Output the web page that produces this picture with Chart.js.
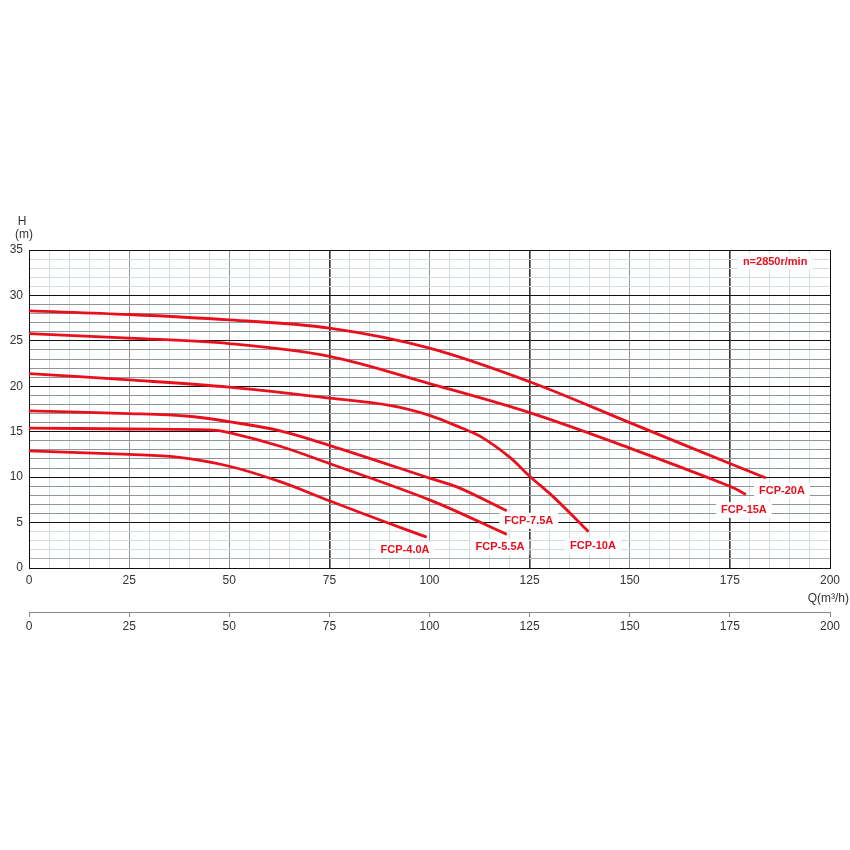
<!DOCTYPE html>
<html>
<head>
<meta charset="utf-8">
<script src="https://cdn.jsdelivr.net/npm/chart.js@4.4.1/dist/chart.umd.min.js"></script>
<style>
  html, body { margin: 0; padding: 0; background: #fff; }
  #wrap { width: 850px; height: 850px; }
</style>
</head>
<body>
<div id="wrap"><canvas id="chart" width="850" height="850"></canvas></div>
<script>
// pump curves, Q in m3/h, H in m
const q20 = [0, 25, 50, 75, 100, 125, 150, 175, 184];
const h20 = [28.3, 27.9, 27.3, 26.4, 24.2, 20.5, 16.0, 11.5, 9.9];
const q15 = [0, 25, 50, 75, 100, 125, 150, 175, 179];
const h15 = [25.8, 25.3, 24.7, 23.3, 20.3, 17.1, 13.2, 9.0, 8.1];
const q10 = [0, 25, 50, 75, 90, 100, 108, 113, 120, 125, 131, 139.7];
const h10 = [21.4, 20.7, 19.9, 18.7, 17.9, 16.8, 15.4, 14.4, 12.2, 10.1, 7.8, 4.0];
const q75 = [0, 25, 40, 50, 62.7, 75, 100, 107, 119.3];
const h75 = [17.3, 17.0, 16.7, 16.1, 15.1, 13.5, 9.9, 8.9, 6.3];
const q55 = [0, 25, 45, 50, 62.7, 75, 100, 119.3];
const h55 = [15.4, 15.3, 15.2, 14.9, 13.4, 11.5, 7.5, 3.7];
const q40 = [0, 25, 37, 50, 62.7, 75, 90, 99.3];
const h40 = [12.9, 12.5, 12.2, 11.2, 9.5, 7.4, 4.9, 3.4];

const seriesNames = ['FCP-20A', 'FCP-15A', 'FCP-10A', 'FCP-7.5A', 'FCP-5.5A', 'FCP-4.0A'];
const labelQ = [188, 178.5, 140.8, 124.8, 117.6, 93.9];
const labelH = [8.5, 6.4, 2.4, 5.2, 2.3, 2.0];

const speedText = 'n=2850r/min';
const RED = '#e8101c';
const FONT = '"Liberation Sans", Arial, sans-serif';

function pts(qs, hs) {
  return qs.map((q, i) => ({x: q, y: hs[i]}));
}

const curves = [[q20, h20], [q15, h15], [q10, h10], [q75, h75], [q55, h55], [q40, h40]];

const textPlugin = {
  id: 'texts',
  afterDatasetsDraw(chart) {
    const ctx = chart.ctx;
    const x = chart.scales.x, y = chart.scales.y;
    ctx.save();
    ctx.font = 'bold 11px ' + FONT;
    ctx.textAlign = 'center';
    ctx.textBaseline = 'middle';
    const box = (txt, px, py) => {
      const w = ctx.measureText(txt).width;
      ctx.fillStyle = '#fff';
      ctx.fillRect(px - w / 2 - 5, py - 8, w + 10, 16);
      ctx.fillStyle = RED;
      ctx.fillText(txt, px, py);
    };
    seriesNames.forEach((n, i) => box(n, x.getPixelForValue(labelQ[i]), y.getPixelForValue(labelH[i])));
    box(speedText, x.getPixelForValue(186.3), y.getPixelForValue(33.7));

    ctx.fillStyle = '#333';
    ctx.font = '12px ' + FONT;
    ctx.fillText('H', 22, 222);
    ctx.fillText('(m)', 24, 235);
    ctx.textAlign = 'right';
    ctx.fillText('Q(m³/h)', 849, 599);
    ctx.restore();
  }
};

function xGridColor(c) {
  const v = c.tick ? c.tick.value : 0;
  if (v === 0 || v === 200) return '#111';
  if (v === 75 || v === 125 || v === 175) return '#333';
  if (v % 25 === 0) return '#8c9496';
  return '#cfdde2';
}
function xGridWidth(c) {
  const v = c.tick ? c.tick.value : 0;
  if (v === 75 || v === 125 || v === 175) return 1.6;
  return 1;
}
function yGridColor(c) {
  const v = c.tick ? c.tick.value : 0;
  if (v % 5 === 0) return '#111';
  if (v > 5 && v < 30) return '#8e9698';
  if (v === 1) return '#a8b2b4';
  return '#d2dee2';
}

new Chart(document.getElementById('chart'), {
  type: 'line',
  data: {
    datasets: curves.map((c, i) => ({
      label: seriesNames[i],
      data: pts(c[0], c[1]),
      borderColor: RED,
      borderWidth: 2.8,
      pointRadius: 0,
      tension: 0.35,
      fill: false
    }))
  },
  options: {
    responsive: false,
    animation: false,
    layout: {padding: {left: 0, top: 250, right: 20, bottom: 218}},
    plugins: {legend: {display: false}, tooltip: {enabled: false}},
    scales: {
      x: {
        type: 'linear', position: 'bottom', min: 0, max: 200, weight: 0,
        afterFit: s => { s.height = 44; },
        ticks: {
          stepSize: 5, autoSkip: false, maxRotation: 0, padding: 5,
          color: '#333', font: {family: FONT, size: 12},
          callback: v => (v % 25 === 0 ? String(v) : '')
        },
        grid: {color: xGridColor, lineWidth: xGridWidth, drawTicks: false},
        border: {color: '#111', width: 1}
      },
      x2: {
        type: 'linear', position: 'bottom', min: 0, max: 200, weight: 1,
        afterFit: s => { s.height = 20; },
        ticks: {
          stepSize: 25, autoSkip: false, maxRotation: 0, padding: 2,
          color: '#333', font: {family: FONT, size: 12}
        },
        grid: {drawOnChartArea: false, drawTicks: true, tickLength: 5, color: '#888'},
        border: {color: '#888', width: 1}
      },
      y: {
        type: 'linear', min: 0, max: 35,
        afterFit: s => { s.width = 29; },
        ticks: {
          stepSize: 1, autoSkip: false, padding: 6,
          color: '#333', font: {family: FONT, size: 12},
          callback: v => (v % 5 === 0 ? String(v) : '')
        },
        grid: {color: yGridColor, lineWidth: 1, drawTicks: false},
        border: {color: '#111', width: 1}
      }
    }
  },
  plugins: [textPlugin]
});
</script>
</body>
</html>
